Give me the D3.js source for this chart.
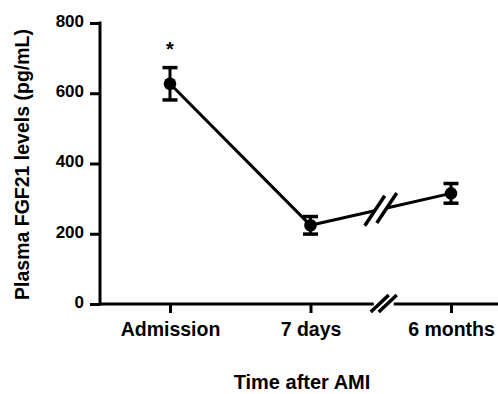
<!DOCTYPE html>
<html>
<head>
<meta charset="utf-8">
<script src="https://cdn.jsdelivr.net/npm/d3@7"></script>
<style>
  body { margin: 0; background: #fff; }
  svg { display: block; }
  text { font-family: Arial, "Liberation Sans", sans-serif; font-weight: bold; fill: #000; }
</style>
</head>
<body>
<div id="chart"></div>
<script>
// values
const categories = ["Admission", "7 days", "6 months"];
const means = [627, 224, 315];
const sems = [46, 25, 28];
const marks = ["*", "", ""];
const yTicks = [0, 200, 400, 600, 800];

const width = 498;
const height = 394;
const margin = { top: 23, right: 0, bottom: 90, left: 100 };

const svg = d3.select("#chart")
    .append("svg")
    .attr("width", width)
    .attr("height", height)
    .attr("viewBox", [0, 0, width, height]);

const y0 = height - margin.bottom; // 304

const xScale = d3.scalePoint()
    .domain(categories)
    .range([170, 451]);

const yScale = d3.scaleLinear()
    .domain([0, 800])
    .range([y0, margin.top]);

// break between the 2nd and 3rd category
const breakX = (xScale(categories[1]) + xScale(categories[2])) / 2 + 3;

// y axis
svg.append("g")
    .attr("transform", `translate(${margin.left},0)`)
    .call(d3.axisLeft(yScale)
        .tickValues(yTicks)
        .tickSize(10)
        .tickSizeOuter(0)
        .tickPadding(6))
    .call(g => g.select(".domain").attr("stroke-width", 3).attr("stroke", "#000")
        .attr("d", `M0,${margin.top - 1.5}V${y0 + 1.5}`))
    .call(g => g.selectAll(".tick line").attr("stroke-width", 3).attr("stroke", "#000"))
    .call(g => g.selectAll(".tick text")
        .attr("dy", "0.2em")
        .style("font-size", "17px")
        .style("font-family", "Arial, 'Liberation Sans', sans-serif")
        .style("font-weight", "bold"));

// x axis
svg.append("g")
    .attr("transform", `translate(0,${y0})`)
    .call(d3.axisBottom(xScale)
        .tickSize(9)
        .tickSizeOuter(0)
        .tickPadding(9))
    .call(g => g.select(".domain").remove())
    .call(g => g.selectAll(".tick line").attr("stroke-width", 3).attr("stroke", "#000"))
    .call(g => g.selectAll(".tick text")
        .style("font-size", "19.5px")
        .style("font-family", "Arial, 'Liberation Sans', sans-serif")
        .style("font-weight", "bold"));

// x axis line in two pieces with a // break
svg.append("line")
    .attr("x1", margin.left).attr("x2", breakX - 10)
    .attr("y1", y0).attr("y2", y0)
    .attr("stroke", "#000").attr("stroke-width", 3);
svg.append("line")
    .attr("x1", breakX + 10).attr("x2", width)
    .attr("y1", y0).attr("y2", y0)
    .attr("stroke", "#000").attr("stroke-width", 3);
[-4, 4].forEach(o => {
    svg.append("line")
        .attr("x1", breakX + o - 9).attr("y1", y0 + 8)
        .attr("x2", breakX + o + 9).attr("y2", y0 - 9)
        .attr("stroke", "#000").attr("stroke-width", 3.5);
});

// data line, broken between 7 days and 6 months
const pts = categories.map((c, i) => [xScale(c), yScale(means[i])]);
const lineY = x => pts[1][1] + (pts[2][1] - pts[1][1]) * (x - pts[1][0]) / (pts[2][0] - pts[1][0]);
const slashA = breakX - 9, slashB = breakX + 3;

const line = d3.line();
svg.append("path")
    .attr("d", line([pts[0], pts[1], [slashA, lineY(slashA)]]))
    .attr("fill", "none").attr("stroke", "#000").attr("stroke-width", 3)
    .attr("stroke-linejoin", "round");
svg.append("path")
    .attr("d", line([[slashB, lineY(slashB)], pts[2]]))
    .attr("fill", "none").attr("stroke", "#000").attr("stroke-width", 3);
[slashA, slashB].forEach(sx => {
    const sy = lineY(sx);
    svg.append("line")
        .attr("x1", sx - 10).attr("y1", sy + 15)
        .attr("x2", sx + 10).attr("y2", sy - 15)
        .attr("stroke", "#000").attr("stroke-width", 3.5);
});

// error bars + points
const pg = svg.append("g")
    .selectAll("g")
    .data(categories)
    .join("g")
    .attr("transform", d => `translate(${xScale(d)},0)`);

pg.append("line")
    .attr("y1", (d, i) => yScale(means[i] + sems[i]))
    .attr("y2", (d, i) => yScale(means[i] - sems[i]))
    .attr("stroke", "#000").attr("stroke-width", 3);

pg.append("line")
    .attr("x1", -7.5).attr("x2", 7.5)
    .attr("y1", (d, i) => yScale(means[i] + sems[i]))
    .attr("y2", (d, i) => yScale(means[i] + sems[i]))
    .attr("stroke", "#000").attr("stroke-width", 3.5);

pg.append("line")
    .attr("x1", -7.5).attr("x2", 7.5)
    .attr("y1", (d, i) => yScale(means[i] - sems[i]))
    .attr("y2", (d, i) => yScale(means[i] - sems[i]))
    .attr("stroke", "#000").attr("stroke-width", 3.5);

pg.append("circle")
    .attr("cy", (d, i) => yScale(means[i]))
    .attr("r", 6.3)
    .attr("fill", "#000");

pg.append("text")
    .attr("y", (d, i) => yScale(means[i] + sems[i]) - 12)
    .attr("text-anchor", "middle")
    .style("font-size", "20px")
    .text((d, i) => marks[i]);

// axis titles
svg.append("text")
    .attr("transform", `translate(29,${(margin.top + y0) / 2 + 1}) rotate(-90)`)
    .attr("text-anchor", "middle")
    .style("font-size", "19.5px")
    .text("Plasma FGF21 levels (pg/mL)");

svg.append("text")
    .attr("x", 302)
    .attr("y", 389)
    .attr("text-anchor", "middle")
    .style("font-size", "20px")
    .text("Time after AMI");
</script>
</body>
</html>
